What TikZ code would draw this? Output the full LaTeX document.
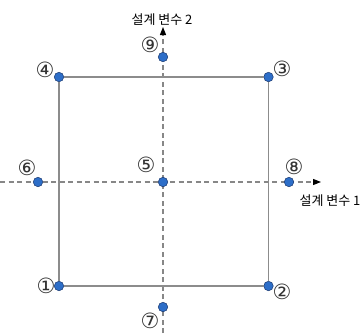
\documentclass[tikz,border=0pt]{standalone}
\usepackage{fontspec}
\setmainfont{Liberation Sans}
\newfontfamily\krfont{Noto Sans CJK KR}
\newfontfamily\circfont{DejaVu Sans}
\usetikzlibrary{arrows.meta, positioning}
\definecolor{mygray}{RGB}{140,140,140}
\definecolor{myaxis}{RGB}{135,135,135}
\definecolor{myblue}{RGB}{45,110,200}
\definecolor{mynavy}{RGB}{25,55,110}
\tikzset{
  dot/.style={circle, draw=mynavy, fill=myblue, inner sep=0pt,
    minimum size=9.5pt, line width=0.5pt},
  num/.style={inner sep=0pt, font=\circfont\fontsize{21}{21}\selectfont, color=black!80},
  axislabel/.style={inner sep=0pt, font=\krfont\fontsize{13}{15}\selectfont},
  axis/.style={-{Triangle[length=8pt, width=6pt, color=black]},
    dash pattern=on 5pt off 3.5pt, line width=1.2pt, color=myaxis},
  line/.style={line width=1.4pt, color=mygray}
}

\begin{document}
\begin{tikzpicture}[x=1pt, y=-1pt]
  \useasboundingbox (0,0) rectangle (363,333);

  % axes
  \coordinate (xs) at (0,182);
  \coordinate (xe) at (321,182);
  \coordinate (ys) at (163,333);
  \coordinate (ye) at (163,27);
  \draw[axis] (xs) -- (xe);
  \draw[axis] (ys) -- (ye);
  \node[axislabel] (x1) at (330,201) {설계 변수 1};
  \node[axislabel] (x2) at (162,20) {설계 변수 2};

  % design points
  \node[dot] (p1) at (59,286) {};
  \node[dot] (p2) at (268.5,286) {};
  \node[dot] (p3) at (268.5,77) {};
  \node[dot] (p4) at (59,77) {};
  \node[dot] (p5) at (163,182) {};
  \node[dot] (p6) at (38,182) {};
  \node[dot] (p7) at (163,307) {};
  \node[dot] (p8) at (289,182) {};
  \node[dot] (p9) at (163,57) {};
  \draw[line] (p1) -- (p2) -- (p3) -- (p4) -- (p1);

  \node[num] (n1) at (46,286) {①};
  \node[num] (n2) at (282,292) {②};
  \node[num] (n3) at (282,69) {③};
  \node[num] (n4) at (45,70) {④};
  \node[num] (n5) at (146,165) {⑤};
  \node[num] (n6) at (27,168) {⑥};
  \node[num] (n7) at (150,321) {⑦};
  \node[num] (n8) at (294,167) {⑧};
  \node[num] (n9) at (150,45) {⑨};
\end{tikzpicture}
\end{document}
